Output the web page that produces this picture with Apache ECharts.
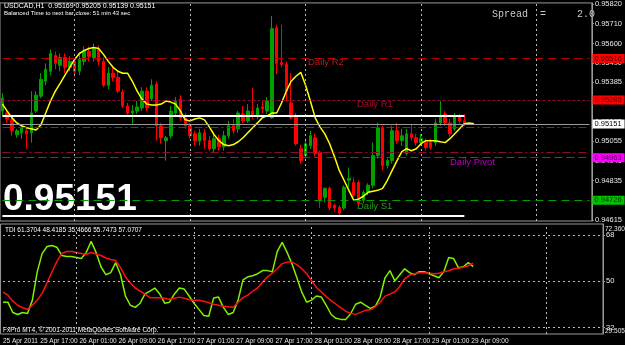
<!DOCTYPE html>
<html><head><meta charset="utf-8">
<script src="https://cdn.jsdelivr.net/npm/echarts@6/dist/echarts.min.js"></script>
<style>html,body{margin:0;padding:0;background:#000;}#c{width:625px;height:345px;}</style>
</head><body><div id="c"></div>
<script>
// ---- time axis (H1 bars, first slot = 25 Apr 2011 10:00) ----
const startHour = 10;
const nSlots = 123;
const categories = [];
for (let i = 0; i < nSlots; i++) {
  const h = startHour + i, d = 25 + Math.floor(h / 24), hh = h % 24;
  categories.push(d + ' Apr ' + String(hh).padStart(2, '0') + ':00');
}
const firstTickLabel = '25 Apr 2011';
const tickLabels = ['25 Apr 17:00','26 Apr 01:00','26 Apr 09:00','26 Apr 17:00','27 Apr 01:00','27 Apr 09:00','27 Apr 17:00','28 Apr 01:00','28 Apr 09:00','28 Apr 17:00','29 Apr 01:00','29 Apr 09:00'];
const gridTimes = ['26 Apr 01:00','27 Apr 01:00','28 Apr 01:00','29 Apr 01:00','30 Apr 01:00'];

// ---- USDCAD H1 candles: [open, close, low, high] ----
const candles = [
[0.95223,0.95295,0.95196,0.95323],[0.95212,0.95179,0.95157,0.95235],[0.95174,0.95113,0.95085,0.95185],[0.95091,0.95113,0.95074,0.95124],
[0.95102,0.95130,0.95069,0.95141],[0.95113,0.95096,0.95013,0.95124],[0.95102,0.95212,0.95047,0.95334],[0.95223,0.95312,0.95212,0.95334],
[0.95306,0.95400,0.95295,0.95434],[0.95389,0.95456,0.95367,0.95489],[0.95445,0.95544,0.95423,0.95566],[0.95533,0.95489,0.95456,0.95555],
[0.95478,0.95522,0.95445,0.95544],[0.95522,0.95467,0.95434,0.95544],[0.95467,0.95500,0.95445,0.95528],[0.95500,0.95445,0.95417,0.95516],
[0.95445,0.95511,0.95423,0.95544],[0.95500,0.95555,0.95478,0.95583],[0.95555,0.95528,0.95500,0.95583],[0.95522,0.95572,0.95500,0.95599],
[0.95566,0.95500,0.95478,0.95588],[0.95500,0.95367,0.95356,0.95522],[0.95367,0.95434,0.95345,0.95467],[0.95434,0.95411,0.95389,0.95467],
[0.95411,0.95334,0.95323,0.95445],[0.95329,0.95251,0.95240,0.95345],[0.95251,0.95212,0.95196,0.95268],[0.95212,0.95223,0.95152,0.95257],
[0.95223,0.95246,0.95207,0.95279],[0.95240,0.95334,0.95223,0.95356],[0.95334,0.95240,0.95223,0.95356],[0.95290,0.95367,0.95279,0.95400],
[0.95373,0.95141,0.95058,0.95389],[0.95141,0.95074,0.95041,0.95157],[0.95058,0.95074,0.94947,0.95085],[0.95085,0.95223,0.95069,0.95251],
[0.95212,0.95279,0.95196,0.95301],[0.95290,0.95185,0.95168,0.95312],[0.95185,0.95141,0.95124,0.95212],[0.95141,0.95085,0.95069,0.95157],
[0.95096,0.95058,0.95030,0.95113],[0.95058,0.95102,0.95030,0.95124],[0.95102,0.95058,0.95013,0.95124],[0.95058,0.95013,0.95002,0.95085],
[0.95013,0.95069,0.94991,0.95091],[0.95069,0.95024,0.95002,0.95091],[0.95024,0.95085,0.95002,0.95113],[0.95085,0.95141,0.95069,0.95168],
[0.95141,0.95113,0.95096,0.95179],[0.95124,0.95212,0.95102,0.95223],[0.95207,0.95168,0.95157,0.95251],[0.95168,0.95223,0.95157,0.95262],
[0.95223,0.95196,0.95179,0.95351],[0.95196,0.95240,0.95179,0.95262],[0.95246,0.95235,0.95212,0.95279],[0.95223,0.95279,0.95207,0.95301],
[0.95185,0.95682,0.95179,0.95754],[0.95688,0.95489,0.95428,0.95704],[0.95494,0.95483,0.95467,0.95704],[0.95483,0.95334,0.95279,0.95500],
[0.95268,0.95185,0.95179,0.95434],[0.95196,0.95041,0.95030,0.95212],[0.95013,0.94947,0.94931,0.95036],[0.94975,0.95041,0.94958,0.95058],
[0.95030,0.95085,0.95013,0.95113],[0.95074,0.94986,0.94969,0.95096],[0.94991,0.94726,0.94682,0.95002],[0.94743,0.94792,0.94715,0.94798],
[0.94792,0.94682,0.94671,0.94803],[0.94698,0.94682,0.94660,0.94709],[0.94687,0.94654,0.94643,0.94698],[0.94682,0.94798,0.94671,0.94809],
[0.94837,0.94848,0.94798,0.94908],[0.94825,0.94754,0.94743,0.94853],[0.94825,0.94709,0.94698,0.94837],[0.94726,0.94770,0.94709,0.94781],
[0.94770,0.94809,0.94754,0.94820],[0.94809,0.94975,0.94792,0.95047],[0.94975,0.95130,0.94958,0.95157],[0.95130,0.94919,0.94892,0.95141],
[0.94919,0.94947,0.94903,0.94958],[0.94947,0.95113,0.94931,0.95141],[0.95113,0.95058,0.95041,0.95157],[0.95058,0.95085,0.95030,0.95124],
[0.94986,0.95096,0.94975,0.95124],[0.95096,0.95074,0.95058,0.95152],[0.95074,0.95047,0.95030,0.95096],[0.95047,0.95069,0.95030,0.95096],
[0.95047,0.95019,0.95002,0.95069],[0.95047,0.95019,0.95008,0.95069],[0.95047,0.95157,0.95030,0.95179],[0.95157,0.95196,0.95141,0.95279],
[0.95207,0.95157,0.95141,0.95223],[0.95157,0.95096,0.95080,0.95179],[0.95124,0.95196,0.95113,0.95212],[0.95196,0.95168,0.95152,0.95207],
[0.95169,0.95151,0.95139,0.95205]
];

// ---- yellow moving average (shifted 2 bars forward) ----
const maLine = [
0.95262,0.95223,0.95185,0.95157,0.95141,0.95130,0.95124,0.95118,0.95146,0.95212,
0.95279,0.95334,0.95378,0.95423,0.95467,0.95511,0.95544,0.95561,0.95572,0.95577,
0.95572,0.95539,0.95500,0.95467,0.95445,0.95434,0.95434,0.95389,0.95334,0.95290,
0.95262,0.95257,0.95257,0.95262,0.95279,0.95273,0.95262,0.95223,0.95174,0.95168,
0.95179,0.95185,0.95174,0.95135,0.95091,0.95058,0.95036,0.95030,0.95036,0.95052,
0.95074,0.95102,0.95130,0.95157,0.95185,0.95196,0.95212,0.95212,0.95268,0.95334,
0.95389,0.95417,0.95439,0.95367,0.95279,0.95185,0.95135,0.95096,0.95041,0.94969,
0.94892,0.94837,0.94781,0.94726,0.94732,0.94748,0.94770,0.94776,0.94781,0.94792,
0.94837,0.94892,0.94947,0.94997,0.95013,0.95002,0.95013,0.95041,0.95058,0.95058,
0.95058,0.95052,0.95047,0.95069,0.95096,0.95124,0.95152,0.95157,0.95152
];

// ---- TDI pane ----
const tdiGreen = [
41.9,41.9,37.9,37.1,37.9,37.5,42.7,53.8,60.9,63.6,64.0,63.3,60.1,59.7,59.7,59.3,58.9,61.3,65.6,61.3,
55.7,52.6,53.4,57.3,52.6,44.3,40.7,39.9,41.5,45.1,46.2,47.4,45.1,41.5,41.9,45.1,47.4,47.0,44.3,41.5,
39.1,36.7,36.4,43.5,43.9,39.9,37.1,37.9,42.7,50.6,51.8,52.2,53.0,54.2,54.2,53.8,61.7,65.2,61.3,56.9,
51.4,45.8,41.9,42.7,44.3,43.9,40.7,37.1,35.6,35.2,35.2,37.5,41.1,41.9,40.7,39.5,40.3,43.9,51.4,54.2,
50.2,52.6,54.9,53.4,52.6,53.8,53.8,53.0,52.2,51.4,53.8,59.3,58.9,55.3,55.7,57.3,55.7473
];
const tdiRed = [
45.85,44.66,42.29,40.71,39.72,39.12,40.71,42.68,45.45,49.41,53.76,57.72,60.88,61.67,61.67,61.28,60.88,60.48,61.28,60.68,
60.09,59.10,58.51,58.11,55.34,51.78,49.41,47.43,46.24,45.06,43.67,43.67,43.67,43.47,43.08,43.47,43.87,43.47,42.88,42.68,
42.68,42.29,41.69,41.10,40.71,40.31,40.11,39.91,41.89,43.67,44.66,46.24,47.43,49.80,51.78,53.17,54.95,56.92,57.52,57.52,
56.53,54.95,52.97,50.20,47.63,45.85,44.07,42.49,41.10,39.72,38.33,37.54,37.15,37.94,38.73,38.93,40.11,41.89,44.27,45.06,
45.85,48.02,50.99,52.37,52.97,53.36,53.36,53.17,52.97,53.17,53.76,54.16,54.95,55.14,55.54,56.13,57.0707
];
const tdiLevels = [68, 50, 32];
const tdiMax = 72.3603, tdiMin = 29.5059;

// ---- price levels ----
const levelR2 = 0.95516, levelR1 = 0.95285, levelPivot = 0.94963, levelS1 = 0.94726;
const levelDashRed = 0.94991, levelDashGreen = 0.95135;
const bidPrice = 0.95151;
const whiteHigh = 0.95196, whiteLow = 0.94637;
const priceAxisLabels = [0.95820,0.95710,0.95600,0.95490,0.95385,0.95275,0.95165,0.95055,0.94945,0.94835,0.94725,0.94615];

const FONT = 'Liberation Sans';
const chart = echarts.init(document.getElementById('c'), null, {renderer: 'canvas'});

const firstCat = categories[0], lastCat = categories[nSlots - 1];
const gridLineStyle = {color: '#b8b8b8', type: [2, 3], width: 1};
function vgrid() {
  return gridTimes.map(t => ({xAxis: t, lineStyle: gridLineStyle, label: {show: false}}));
}
function hline(v, color, type, box, boxText) {
  const a = {coord: [firstCat, v], lineStyle: {color: color, type: type, width: 1}};
  if (box) {
    a.label = {show: true, position: 'end', distance: 3, formatter: v.toFixed(5), backgroundColor: box,
      color: boxText || '#000', fontSize: 7.5, fontFamily: FONT, padding: [1, 3, 0, 2]};
  } else a.label = {show: false};
  return [a, {coord: [lastCat, v]}];
}

const option = {
  backgroundColor: '#000',
  animation: false,
  grid: [
    {left: 0, top: 1, width: 603, height: 220, show: true, borderColor: '#9a9a9a', borderWidth: 1, backgroundColor: '#000'},
    {left: 0, top: 224, width: 603, height: 110, show: true, borderColor: '#9a9a9a', borderWidth: 1, backgroundColor: '#000'}
  ],
  xAxis: [
    {type: 'category', gridIndex: 0, data: categories, boundaryGap: true,
     axisLine: {show: false}, axisTick: {show: false}, axisLabel: {show: false}, splitLine: {show: false}},
    {type: 'category', gridIndex: 1, data: categories, boundaryGap: true,
     axisLine: {show: false}, axisTick: {show: false}, splitLine: {show: false},
     axisLabel: {show: true, margin: 4, align: 'left',
       interval: (idx, val) => idx === 0 || tickLabels.indexOf(val) >= 0,
       formatter: (val, idx) => idx === 0 ? '{f|' + firstTickLabel + '}' : '{n|' + val + '}',
       rich: {f: {color: '#e8e8e8', fontSize: 6.5, fontFamily: FONT},
              n: {color: '#e8e8e8', fontSize: 6.5, fontFamily: FONT, padding: [0, 0, 0, 3]}}}}
  ],
  yAxis: [
    {type: 'value', gridIndex: 0, position: 'right', min: 0.94610, max: 0.95826, scale: true,
     axisLine: {show: true, lineStyle: {color: '#9a9a9a'}},
     axisTick: {show: true, length: 2, lineStyle: {color: '#9a9a9a'}, customValues: priceAxisLabels},
     splitLine: {show: false},
     axisLabel: {show: true, margin: 3, color: '#e8e8e8', fontSize: 7.5, fontFamily: FONT,
       customValues: priceAxisLabels, formatter: v => v.toFixed(5)}},
    {type: 'value', gridIndex: 1, position: 'right', min: tdiMin, max: tdiMax,
     axisLine: {show: true, lineStyle: {color: '#9a9a9a'}},
     axisTick: {show: true, length: 2, lineStyle: {color: '#9a9a9a'}, customValues: tdiLevels},
     splitLine: {show: false},
     axisLabel: {show: true, margin: 3, color: '#e8e8e8', fontSize: 7.5, fontFamily: FONT,
       customValues: tdiLevels, formatter: v => String(v)}}
  ],
  series: [
    {type: 'candlestick', xAxisIndex: 0, yAxisIndex: 0, data: candles, barWidth: 3,
     itemStyle: {color: '#00a000', color0: '#ff0000', borderColor: '#00a000', borderColor0: '#ff0000', borderWidth: 1},
     markLine: {silent: true, symbol: ['none', 'none'], animation: false, data: vgrid()}},
    {type: 'line', xAxisIndex: 0, yAxisIndex: 0, data: maLine, showSymbol: false, symbol: 'none',
     lineStyle: {color: '#ffff00', width: 1.5}, z: 3,
     markLine: {silent: true, symbol: ['none', 'none'], animation: false,
       data: [
         hline(levelR2, '#c00000', [8, 5], '#ff0000', '#5a0000'),
         hline(levelR1, '#8b0a3a', [3, 2], '#ff0000', '#5a0000'),
         hline(levelDashRed, '#8b0a3a', [8, 3, 2, 3], null),
         hline(levelPivot, '#b000b0', [8, 4], '#ff00ff', '#400040'),
         hline(levelDashGreen, '#007000', [8, 3, 2, 3], null),
         hline(levelS1, '#00a000', [8, 5], '#00c000', '#003000'),
         hline(bidPrice, '#9a9a9a', 'solid', '#ffffff', '#000000'),
         [{coord: [firstCat, whiteHigh], lineStyle: {color: '#ffffff', width: 2, type: 'solid'}, label: {show: false}},
          {coord: [categories[candles.length - 1], whiteHigh]}],
         [{coord: [firstCat, whiteLow], lineStyle: {color: '#ffffff', width: 2, type: 'solid'}, label: {show: false}},
          {coord: [categories[candles.length - 1], whiteLow]}]
       ]}},
    {type: 'line', xAxisIndex: 1, yAxisIndex: 1, data: tdiGreen, symbol: 'none',
     lineStyle: {color: '#80f000', width: 1.5},
     markLine: {silent: true, symbol: ['none', 'none'], animation: false,
       data: [
         ...vgrid(),
         ...tdiLevels.map(v => [{coord: [firstCat, v], lineStyle: gridLineStyle, label: {show: false}}, {coord: [lastCat, v]}])
       ]}},
    {type: 'line', xAxisIndex: 1, yAxisIndex: 1, data: tdiRed, symbol: 'none',
     lineStyle: {color: '#ff1010', width: 1.5}}
  ],
  graphic: [
    {type: 'text', x: 4, y: 6, style: {text: 'USDCAD,H1  0.95169 0.95205 0.95139 0.95151', fill: '#ffffff', font: '7px ' + FONT, textVerticalAlign: 'middle'}},
    {type: 'text', x: 4, y: 13, style: {text: 'Balanced Time to next bar close: 51 min 43 sec', fill: '#ffffff', font: '6px ' + FONT, textVerticalAlign: 'middle'}},
    {type: 'text', x: 492, y: 14, style: {text: 'Spread', fill: '#c8c8c8', font: '10px Liberation Mono', textVerticalAlign: 'middle'}},
    {type: 'text', x: 540, y: 14, style: {text: '=', fill: '#c8c8c8', font: '10px Liberation Mono', textVerticalAlign: 'middle'}},
    {type: 'text', x: 577, y: 14, style: {text: '2.0', fill: '#c8c8c8', font: '10px Liberation Mono', textVerticalAlign: 'middle'}},
    {type: 'text', x: 308, y: 62, style: {text: 'Daily R2', fill: '#c01818', font: '9.5px ' + FONT, textVerticalAlign: 'middle'}},
    {type: 'text', x: 357, y: 104, style: {text: 'Daily R1', fill: '#a0102a', font: '9.5px ' + FONT, textVerticalAlign: 'middle'}},
    {type: 'text', x: 450, y: 162, style: {text: 'Daily Pivot', fill: '#c000c0', font: '9.5px ' + FONT, textVerticalAlign: 'middle'}},
    {type: 'text', x: 357, y: 206, style: {text: 'Daily S1', fill: '#20a020', font: '9.5px ' + FONT, textVerticalAlign: 'middle'}},
    {type: 'text', x: 3, y: 218, style: {text: '0.95151', fill: '#ffffff', font: 'bold 37px ' + FONT, textVerticalAlign: 'bottom'}},
    {type: 'text', x: 5, y: 230, style: {text: 'TDI 61.3704 48.4185 35.4666 55.7473 57.0707', fill: '#ffffff', font: '6.5px ' + FONT, textVerticalAlign: 'middle'}},
    {type: 'text', x: 3, y: 330, style: {text: 'FxPro MT4, \u00a9 2001-2011 MetaQuotes Software Corp.', fill: '#ffffff', font: '6.5px ' + FONT, textVerticalAlign: 'middle'}},
    {type: 'text', x: 605, y: 229, style: {text: String(tdiMax), fill: '#e8e8e8', font: '6.5px ' + FONT, textVerticalAlign: 'middle'}},
    {type: 'text', x: 605, y: 331, style: {text: String(tdiMin), fill: '#e8e8e8', font: '6.5px ' + FONT, textVerticalAlign: 'middle'}}
  ]
};
chart.setOption(option);
</script></body></html>
